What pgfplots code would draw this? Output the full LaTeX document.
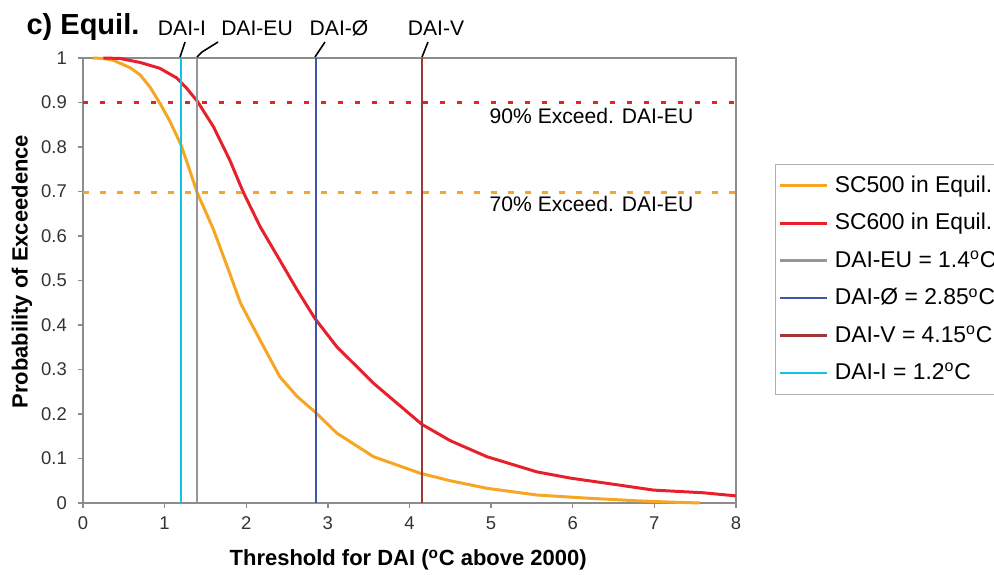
\documentclass[border=0pt]{standalone}
\usepackage{pgfplots}
\pgfplotsset{compat=1.18}
\usepackage{fontspec}
\setmainfont{Liberation Sans}
\definecolor{corange}{RGB}{246,166,35}
\definecolor{cred}{RGB}{232,32,44}
\definecolor{cgray}{RGB}{150,150,150}
\definecolor{cblue}{RGB}{65,85,170}
\definecolor{cdred}{RGB}{160,55,55}
\definecolor{ccyan}{RGB}{20,195,225}
\definecolor{cframe}{RGB}{140,140,140}
\begin{document}
\begin{tikzpicture}[x=1cm,y=1cm]
\begin{axis}[
  at={(1.66cm,-10.06cm)}, anchor=south west,
  scale only axis, width=13.06cm, height=8.9cm,
  xmin=0, xmax=8, ymin=0, ymax=1,
  xtick={0,1,...,8}, ytick={0,0.1,...,1.0},
  xtick pos=bottom, ytick pos=left,
  yticklabel style={/pgf/number format/fixed, /pgf/number format/precision=1},
  /pgf/number format/assume math mode=true,
  tick align=outside, major tick length=0.1cm,
  tick style={cframe, line width=0.8pt},
  axis line style={cframe, line width=0.9pt},
  tick label style={font=\fontsize{10.5}{12}\selectfont, text=black!80},
  xticklabel style={yshift=-0.05cm},
  yticklabel style={xshift=-0.1cm},
  xlabel={\textbf{Threshold for DAI (\textsuperscript{o}C above 2000)}},
  ylabel={\textbf{Probability of Exceedence}},
  label style={font=\fontsize{12.5}{14}\selectfont},
  xlabel style={at={(axis description cs:0.498,-0.128)}, anchor=center},
  ylabel style={at={(axis description cs:-0.0934,0.52)}, anchor=center},
  legend style={at={(rel axis cs:1.0597,0.762)}, anchor=north west,
    draw=cframe!70, line width=0.6pt, inner sep=1.5pt,
    font=\fontsize{13}{15}\selectfont, row sep=0pt,
    nodes={text height=10.5pt, text depth=3pt, inner sep=3.9pt}},
  legend cell align=left,
  legend image code/.code={\draw[#1] (0cm,0cm) -- (0.94cm,0cm);},
  every legend image post/.style={line width=1.6pt},
  clip=false,
]
\addplot[corange, line width=1.7pt] coordinates {
(0.12,1.0) (0.25,0.999) (0.37,0.995) (0.58,0.978) (0.70,0.962) (0.82,0.935) (0.94,0.899)
(1.07,0.856) (1.20,0.805) (1.30,0.752) (1.40,0.697) (1.60,0.614) (1.78,0.525) (1.93,0.449) (2.17,0.366)
(2.41,0.284) (2.62,0.24) (2.84,0.205) (3.11,0.157) (3.56,0.104) (4.13,0.067)
(4.5,0.05) (4.95,0.033) (5.56,0.018) (6.17,0.011) (6.78,0.005) (7.2,0.002) (7.56,0.0)};
\addlegendentry{SC500 in Equil.}
\addplot[cred, line width=1.7pt] coordinates {
(0.25,1.0) (0.45,0.999) (0.70,0.99) (0.94,0.977) (1.15,0.955) (1.27,0.932) (1.40,0.903)
(1.60,0.845) (1.80,0.77) (1.96,0.70) (2.17,0.621) (2.41,0.546) (2.62,0.48)
(2.84,0.415) (3.11,0.351) (3.56,0.269) (4.15,0.177) (4.5,0.14) (4.95,0.104)
(5.56,0.07) (5.97,0.056) (6.58,0.04) (6.99,0.029) (7.6,0.023) (8.0,0.016)};
\addlegendentry{SC600 in Equil.}
\addplot[cgray, line width=1.1pt] coordinates {(1.4,0) (1.4,1)};
\addlegendentry{DAI-EU = 1.4\textsuperscript{o}C}
\addplot[cblue, line width=1.1pt] coordinates {(2.85,0) (2.85,1)};
\addlegendentry{DAI-Ø = 2.85\textsuperscript{o}C}
\addplot[cdred, line width=1.1pt] coordinates {(4.15,0) (4.15,1)};
\addlegendentry{DAI-V = 4.15\textsuperscript{o}C}
\addplot[ccyan, line width=1.1pt] coordinates {(1.2,0) (1.2,1)};
\addlegendentry{DAI-I = 1.2\textsuperscript{o}C}
\addplot[cred, line width=1.8pt, dash pattern=on 0.1cm off 0.24cm, forget plot] coordinates {(0,0.9) (8,0.9)};
\addplot[corange, line width=1.8pt, dash pattern=on 0.12cm off 0.22cm, forget plot] coordinates {(0,0.697) (8,0.697)};
\node[font=\fontsize{12}{14}\selectfont] at (axis cs:6.23,0.87) {90\% Exceed. DAI-EU};
\node[font=\fontsize{12}{14}\selectfont] at (axis cs:6.23,0.671) {70\% Exceed. DAI-EU};
\end{axis}
% title and top labels
\node[anchor=base, font=\bfseries\fontsize{16.5}{18}\selectfont] at (1.66,-0.68) {c) Equil.};
\begin{scope}[font=\fontsize{12}{14}\selectfont]
\node[anchor=base] at (3.64,-0.70) {DAI-I};
\node[anchor=base] at (5.14,-0.70) {DAI-EU};
\node[anchor=base] at (6.78,-0.70) {DAI-Ø};
\node[anchor=base] at (8.72,-0.70) {DAI-V};
\end{scope}
\begin{scope}[line width=0.9pt, black]
\draw (3.60,-1.14) -- (3.70,-0.84);
\draw (3.94,-1.14) -- (4.04,-1.04) -- (4.36,-0.84);
\draw (6.30,-1.14) -- (6.50,-0.84);
\draw (8.44,-1.14) -- (8.56,-0.84);
\end{scope}
\pgfresetboundingbox
\useasboundingbox (0,0) rectangle (19.88,-11.48);
\end{tikzpicture}
\end{document}
